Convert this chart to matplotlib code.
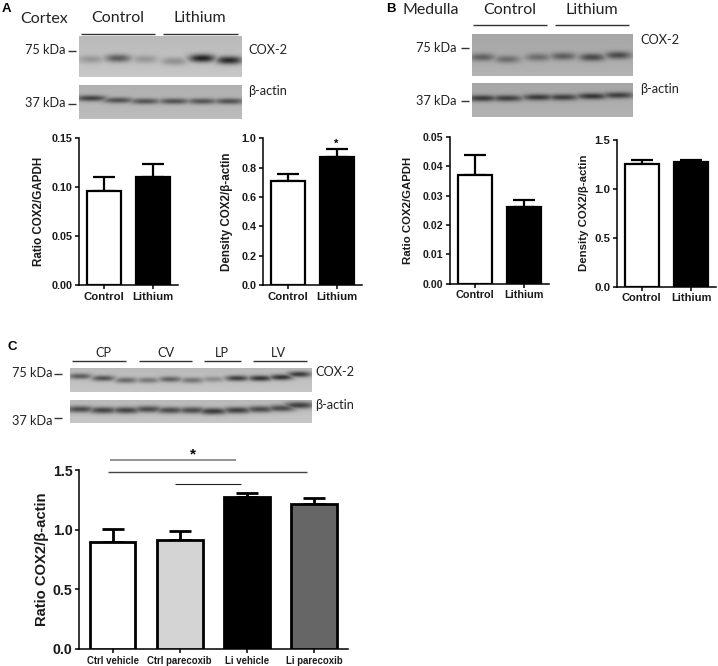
import numpy as np
import matplotlib
matplotlib.use("Agg")
import matplotlib.pyplot as plt

W, H = 718, 666

# bar chart values
groups_two = ["Control", "Lithium"]
groups_c = ["Ctrl vehicle", "Ctrl parecoxib", "Li vehicle", "Li parecoxib"]

a_ratio = [0.096, 0.111]
a_ratio_top = [0.110, 0.124]
a_density = [0.71, 0.875]
a_density_top = [0.76, 0.925]

b_ratio = [0.037, 0.026]
b_ratio_top = [0.044, 0.0285]
b_density = [1.25, 1.27]
b_density_top = [1.29, 1.29]

c_ratio = [0.90, 0.91, 1.27, 1.215]
c_ratio_top = [1.005, 0.99, 1.305, 1.265]

# band darkness per lane on the blots
a_cox = [0.24, 0.58, 0.24, 0.28, 0.92, 0.88]
a_actin = [0.72, 0.62, 0.60, 0.62, 0.60, 0.62]
b_cox = [0.50, 0.42, 0.42, 0.52, 0.65, 0.65]
b_actin = [0.75, 0.72, 0.75, 0.72, 0.78, 0.72]
c_cox = [0.58, 0.64, 0.50, 0.42, 0.55, 0.45, 0.30, 0.75, 0.82, 0.82, 0.78]
c_actin = [0.68, 0.72, 0.72, 0.68, 0.68, 0.68, 0.78, 0.75, 0.68, 0.68, 0.75]

# lane centres and band heights in picture pixels
a_lanes_x = [91, 118, 145, 174, 202, 229]
a_cox_y = [59, 58, 59, 61, 58, 60]
a_actin_y = [98, 100, 101, 101, 101, 101]
b_lanes_x = [482, 507, 538, 563, 592, 618]
b_cox_y = [57, 59, 57, 56, 57, 55]
b_actin_y = [98, 98, 97, 97, 96, 95]
c_lanes_x = [80, 103, 126, 148, 170, 192, 213, 237, 260, 281, 299]
c_cox_y = [376, 378, 380, 380, 379, 380, 379, 378, 378, 377, 374]
c_actin_y = [409, 410, 410, 409, 410, 410, 411, 410, 409, 408, 405]

plt.rcParams["font.family"] = ["Liberation Sans", "DejaVu Sans"]
BLOT_FONT = ["Lato", "DejaVu Sans"]

fig = plt.figure(figsize=(W / 100, H / 100), dpi=100, facecolor="white")

# whole figure layer in pixel coordinates for blots and labels
page = fig.add_axes([0, 0, 1, 1])


def draw_blot(box, lanes_x, lanes_y, dark, half_w, half_h, back):
    x0, x1, y0, y1 = box
    xs, ys = np.meshgrid(np.arange(x0, x1, 0.5), np.arange(y0, y1, 0.5))
    img = np.full(xs.shape, back, dtype=float)
    # soft shade towards the top of the membrane
    img -= 0.05 * (1 - (ys - y0) / (y1 - y0))
    amount = np.zeros(xs.shape)
    for lx, ly, d in zip(lanes_x, lanes_y, dark):
        band = np.exp(-np.abs((xs - lx) / half_w) ** 2.6) * np.exp(-((ys - ly) / half_h) ** 2)
        amount = np.maximum(amount, d * band)
    img = img * (1 - amount) + 0.08 * amount
    page.imshow(img, extent=(x0, x1, y1, y0), cmap="gray", vmin=0, vmax=1,
                aspect="auto", interpolation="bilinear", zorder=1)


def blot_text(x, y, s, size=9.2, ha="left"):
    page.text(x, y, s, fontsize=size, family=BLOT_FONT, color="#222222",
              ha=ha, va="center", zorder=3)


def rule(x0, x1, y, color="#333333", lw=1.0):
    page.plot([x0, x1], [y, y], color=color, lw=lw, solid_capstyle="butt", zorder=3)


def bar_panel(left, right, top, bottom, labels, means, tops, colors, ymax, ticks, fmt,
              ylabel, label_x, tick_size, label_size, name_size, edge, cap):
    ax = fig.add_axes([left / W, 1 - bottom / H, (right - left) / W, (bottom - top) / H])
    ax.patch.set_alpha(0)
    pos = np.arange(1, len(labels) + 1)
    err = np.array(tops) - np.array(means)
    ax.errorbar(pos, means, yerr=[np.zeros(len(err)), err], fmt="none", ecolor="black",
                elinewidth=edge, capsize=cap, capthick=edge, zorder=2)
    ax.bar(pos, means, width=0.68, color=colors, edgecolor="black", linewidth=edge, zorder=3)
    ax.set_xlim(0.5, len(labels) + 0.5)
    ax.set_ylim(0, ymax)
    ax.set_xticks(pos)
    ax.set_xticklabels(labels, fontsize=name_size, fontweight="bold", color="#1a1a1a")
    ax.set_yticks(ticks)
    ax.set_yticklabels([fmt % t for t in ticks], fontsize=tick_size, fontweight="bold",
                       color="#1a1a1a")
    ax.tick_params(axis="both", width=1.1, length=3.2, pad=1.5)
    ax.set_ylabel(ylabel, fontsize=label_size, fontweight="bold", color="#1a1a1a", va="center")
    ax.yaxis.set_label_coords((label_x - left) / (right - left), 0.5)
    for side in ["top", "right"]:
        ax.spines[side].set_visible(False)
    for side in ["left", "bottom"]:
        ax.spines[side].set_linewidth(1.1)
    return ax


# panel A blots
draw_blot((79, 242, 36, 77), a_lanes_x, a_cox_y, a_cox, 13, 4.0, 0.78)
draw_blot((79, 242, 85, 119), a_lanes_x, a_actin_y, a_actin, 16, 3.0, 0.74)
rule(81, 155, 33.5)
rule(163, 238, 33.5)
blot_text(20, 19, "Cortex", 11.5)
blot_text(118, 18.5, "Control", 11.5, "center")
blot_text(200, 18.5, "Lithium", 11.5, "center")
blot_text(25, 50, "75 kDa")
blot_text(25, 103, "37 kDa")
rule(68, 76, 51)
rule(68, 76, 103.5)
blot_text(248, 50, "COX-2")
blot_text(248, 91, "\u03b2-actin")

# panel B blots
draw_blot((472, 633, 34, 76), b_lanes_x, b_cox_y, b_cox, 13, 3.8, 0.70)
draw_blot((472, 633, 83, 117), b_lanes_x, b_actin_y, b_actin, 16, 3.2, 0.70)
rule(473, 547, 25)
rule(555, 629, 25)
blot_text(403, 10, "Medulla", 11.5)
blot_text(510, 10, "Control", 11.5, "center")
blot_text(592, 10, "Lithium", 11.5, "center")
blot_text(416, 48, "75 kDa")
blot_text(416, 101, "37 kDa")
rule(461, 469, 48)
rule(461, 469, 101)
blot_text(640, 40, "COX-2")
blot_text(640, 89, "\u03b2-actin")

# panel C blots
draw_blot((70, 312, 368, 392), c_lanes_x, c_cox_y, c_cox, 12, 2.9, 0.78)
draw_blot((70, 312, 400, 423), c_lanes_x, c_actin_y, c_actin, 15, 3.4, 0.78)
rule(72, 126, 361)
rule(139, 192, 361)
rule(204, 241, 361)
rule(253, 307, 361)
blot_text(103, 353, "CP", 9.2, "center")
blot_text(166, 353, "CV", 9.2, "center")
blot_text(222, 353, "LP", 9.2, "center")
blot_text(278, 353, "LV", 9.2, "center")
blot_text(12, 373, "75 kDa")
blot_text(12, 421, "37 kDa")
rule(54, 62, 374)
rule(54, 62, 418)
blot_text(315, 372, "COX-2")
blot_text(315, 405, "\u03b2-actin")

# panel letters
page.text(2, 9, "A", fontsize=9.5, fontweight="bold", ha="left", va="center")
page.text(386, 9, "B", fontsize=9.5, fontweight="bold", ha="left", va="center")
page.text(8, 347, "C", fontsize=9.5, fontweight="bold", ha="left", va="center")

# significance marks
page.text(336, 144, "*", fontsize=8, fontweight="bold", ha="center", va="center", zorder=5)
page.text(193, 454, "*", fontsize=11, fontweight="bold", ha="center", va="center", zorder=5)
rule(110, 236, 460, "#777777", 1.1)
rule(108, 307, 472, "#444444", 1.0)
rule(175, 241, 484, "#222222", 0.8)

page.set_xlim(0, W)
page.set_ylim(H, 0)
page.axis("off")

two_colors = ["white", "black"]
bar_panel(79, 178, 138.3, 285.3, groups_two, a_ratio, a_ratio_top, two_colors, 0.15,
          [0, 0.05, 0.10, 0.15], "%.2f", "Ratio COX2/GAPDH", 39, 7.8, 8.4, 8.2, 1.6, 8)
bar_panel(263, 362, 138.3, 285.3, groups_two, a_density, a_density_top, two_colors, 1.0,
          [0, 0.2, 0.4, 0.6, 0.8, 1.0], "%.1f", "Density COX2/\u03b2-actin", 227, 7.8, 8.4, 8.2, 1.6, 8)
bar_panel(450, 549, 137, 283.7, groups_two, b_ratio, b_ratio_top, two_colors, 0.05,
          [0, 0.01, 0.02, 0.03, 0.04, 0.05], "%.2f", "Ratio COX2/GAPDH", 408, 7.6, 8.2, 7.8, 1.6, 8)
bar_panel(617, 716, 139.7, 286.7, groups_two, b_density, b_density_top, two_colors, 1.5,
          [0, 0.5, 1.0, 1.5], "%.1f", "Density COX2/\u03b2-actin", 584, 8.2, 8.2, 8.0, 1.6, 8)
bar_panel(79, 347.5, 470, 649, groups_c, c_ratio, c_ratio_top,
          ["white", "#d4d4d4", "black", "#666666"], 1.5,
          [0, 0.5, 1.0, 1.5], "%.1f", "Ratio COX2/\u03b2-actin", 42, 10.2, 10.6, 6.9, 2.0, 8)

fig.savefig("out.png", dpi=100, facecolor="white")
